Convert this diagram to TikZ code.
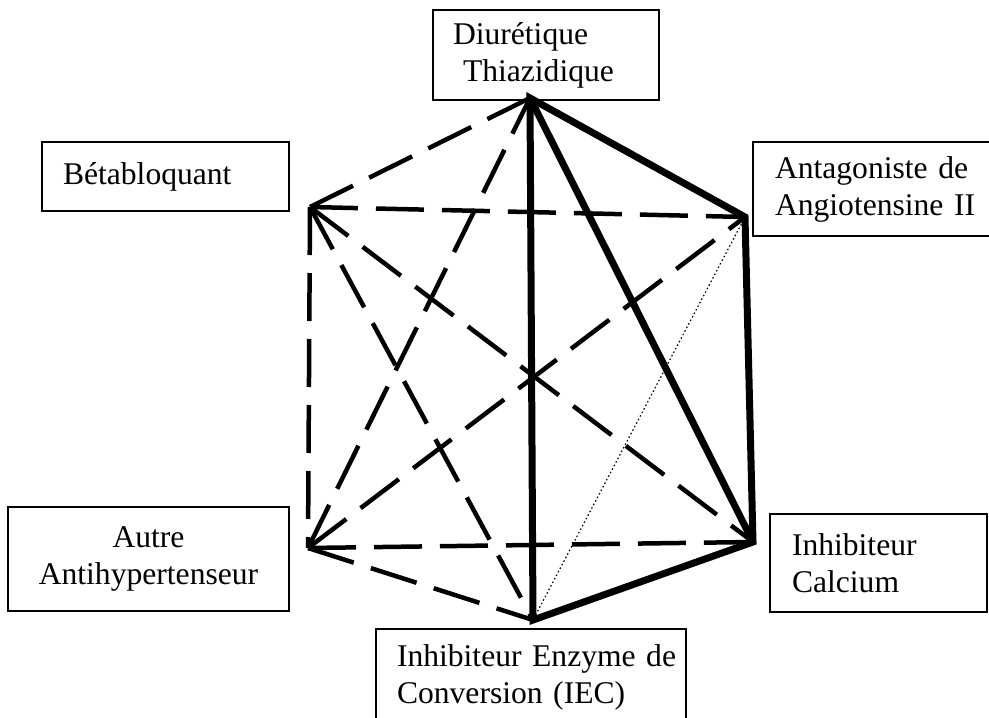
\documentclass[tikz,border=0pt]{standalone}
\usepackage{fontspec}
\setmainfont{Liberation Serif}

\begin{document}
\begin{tikzpicture}[x=1pt,y=-1pt,
	box/.style={draw, line width=1.3pt, anchor=north west, inner xsep=0pt, inner ysep=0pt,
		outer sep=0pt, align=left, font=\fontsize{31.6}{37}\selectfont},
	solidedge/.style={line width=7pt},
	dashedge/.style={line width=4.5pt, dash pattern=on 48pt off 18pt},
	dotedge/.style={line width=1.2pt, dash pattern=on 1.5pt off 2.5pt}]

	\useasboundingbox (0,0) rectangle (989,718);
	\clip (0,0) rectangle (989,718);

	% Corners of the network
	\coordinate (diur) at (530,98);
	\coordinate (beta) at (310,207);
	\coordinate (anta) at (745,217);
	\coordinate (autre) at (308,548);
	\coordinate (calc) at (753,542);
	\coordinate (iec) at (533,620);

	% Label boxes
	\node[box, text width=226pt, minimum height=90pt] (diurBox) at (433,10)
		{\hspace*{20pt}Diurétique\\\hspace*{30pt}Thiazidique};
	\node[box, text width=247pt, minimum height=69pt] (betaBox) at (42,142)
		{\hspace*{21pt}Bétabloquant};
	\node[box, text width=250pt, minimum height=94pt] (antaBox) at (753,142)
		{\hspace*{22pt}Antagoniste de\\\hspace*{22pt}Angiotensine II};
	\node[box, text width=281pt, minimum height=104pt, align=center] (autreBox) at (8,507)
		{Autre\\Antihypertenseur};
	\node[box, text width=217pt, minimum height=98pt] (calcBox) at (770,514)
		{\hspace*{22pt}Inhibiteur\\\hspace*{22pt}Calcium};
	\node[box, text width=310pt, minimum height=96pt] (iecBox) at (376,629)
		{\hspace*{21pt}Inhibiteur Enzyme de\\\hspace*{21pt}Conversion (IEC)};

	% Dashed links
	\draw[dashedge] (beta) -- (diur);
	\draw[dashedge] (autre) -- (diur);
	\draw[dashedge] (beta) -- (anta);
	\draw[dashedge] (beta) -- (calc);
	\draw[dashedge] (beta) -- (autre);
	\draw[dashedge] (beta) -- (iec);
	\draw[dashedge] (autre) -- (anta);
	\draw[dashedge] (autre) -- (calc);
	\draw[dashedge] (autre) -- (iec);

	% Solid links
	\draw[solidedge] (diur) -- (anta) -- (calc) -- (iec) -- cycle;
	\draw[solidedge] (diur) -- (calc);

	% Dotted link
	\draw[dotedge] (anta) -- (iec);
\end{tikzpicture}
\end{document}
